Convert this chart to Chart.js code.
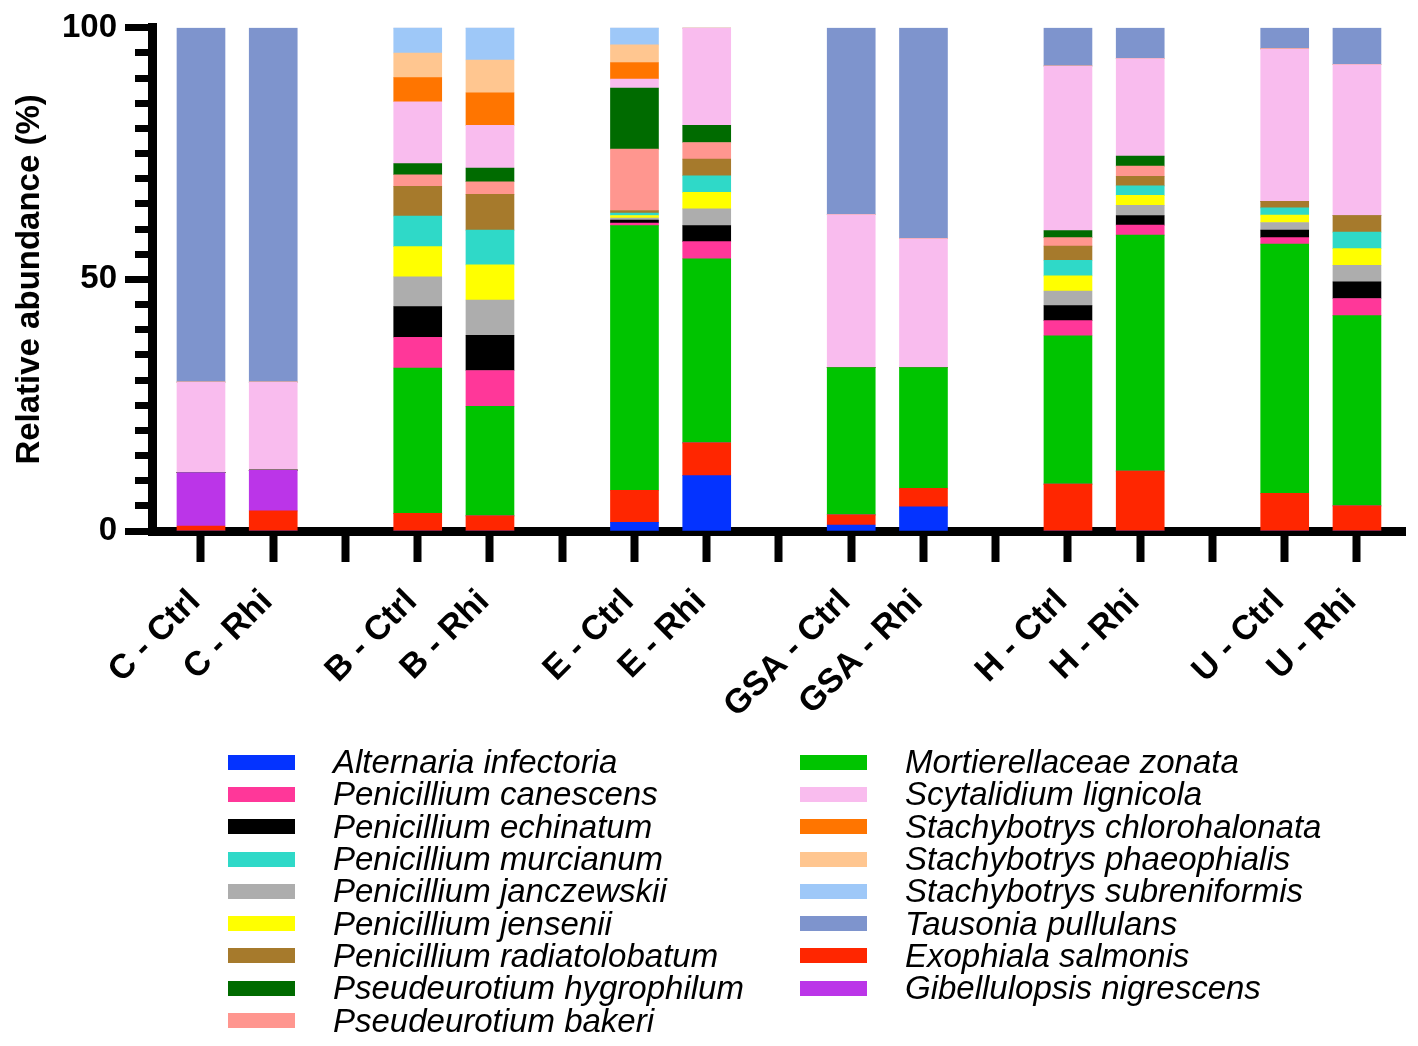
<!DOCTYPE html>
<html>
<head>
<meta charset="utf-8">
<script src="https://cdn.jsdelivr.net/npm/chart.js@4.4.1/dist/chart.umd.min.js"></script>
<style>
  html, body { margin:0; padding:0; background:#fff; }
  #wrap { position:relative; width:1418px; height:1046px; overflow:hidden; }
  #chart { position:absolute; left:0; top:0; }
  .legend-col { position:absolute; top:746px; }
  .legend-item { height:32.3px; display:flex; align-items:center; white-space:nowrap;
    font: italic 33px "Liberation Sans", Arial, sans-serif; color:#000; }
  .swatch { width:67px; height:15px; margin-right:38px; flex:none; }
</style>
</head>
<body>
<div id="wrap">
  <canvas id="chart" width="1418" height="1046"></canvas>
  <div id="legendLeft" class="legend-col" style="left:228px"></div>
  <div id="legendRight" class="legend-col" style="left:800px"></div>
</div>
<script>
// samples along the x axis (pairs, a blank slot after each pair)
const samples = ['C - Ctrl', 'C - Rhi', 'B - Ctrl', 'B - Rhi', 'E - Ctrl', 'E - Rhi',
                 'GSA - Ctrl', 'GSA - Rhi', 'H - Ctrl', 'H - Rhi', 'U - Ctrl', 'U - Rhi'];
const yTicks = [0, 50, 100];

// relative abundance (%), one value per sample
const alternaria     = [0, 0, 0, 0, 1.7, 11.0, 1.2, 4.8, 0, 0, 0, 0];
const exophiala      = [1.0, 4.0, 3.5, 3.0, 6.4, 6.5, 2.0, 3.7, 9.3, 11.9, 7.5, 5.0];
const gibellulopsis  = [10.6, 8.1, 0, 0, 0, 0, 0, 0, 0, 0, 0, 0];
const mortierella    = [0, 0, 28.9, 21.8, 52.6, 36.6, 29.3, 24.0, 29.5, 46.9, 49.5, 37.8];
const canescens      = [0, 0, 6.1, 7.1, 0.5, 3.4, 0, 0, 3.0, 2.0, 1.3, 3.4];
const echinatum      = [0, 0, 6.1, 7.0, 0.6, 3.2, 0, 0, 3.0, 1.9, 1.5, 3.3];
const janczewskii    = [0, 0, 5.9, 7.0, 0.4, 3.3, 0, 0, 2.9, 2.0, 1.5, 3.3];
const jensenii       = [0, 0, 6.0, 7.0, 0.5, 3.3, 0, 0, 3.0, 2.0, 1.5, 3.3];
const murcianum      = [0, 0, 6.1, 6.9, 0.5, 3.3, 0, 0, 3.1, 1.9, 1.4, 3.3];
const radiatolobatum = [0, 0, 5.9, 7.1, 0.5, 3.3, 0, 0, 2.8, 1.9, 1.3, 3.3];
const bakeri         = [0, 0, 2.3, 2.5, 12.2, 3.3, 0, 0, 1.7, 2.0, 0, 0];
const hygrophilum    = [0, 0, 2.2, 2.7, 12.1, 3.4, 0, 0, 1.4, 2.0, 0, 0];
const scytalidium    = [18.0, 17.5, 12.3, 8.5, 1.8, 19.4, 30.4, 25.6, 32.7, 19.4, 30.3, 30.0];
const chlorohalonata = [0, 0, 4.8, 6.5, 3.3, 0, 0, 0, 0, 0, 0, 0];
const phaeophialis   = [0, 0, 4.9, 6.5, 3.5, 0, 0, 0, 0, 0, 0, 0];
const subreniformis  = [0, 0, 5.0, 6.4, 3.4, 0, 0, 0, 0, 0, 0, 0];
const tausonia       = [70.4, 70.4, 0, 0, 0, 0, 37.1, 41.9, 7.6, 6.1, 4.2, 7.3];

// stack order, bottom -> top
const species = [
  ['Alternaria infectoria', alternaria, '#0433ff'],
  ['Exophiala salmonis', exophiala, '#ff2600'],
  ['Gibellulopsis nigrescens', gibellulopsis, '#bb35e8'],
  ['Mortierellaceae zonata', mortierella, '#00c400'],
  ['Penicillium canescens', canescens, '#ff3799'],
  ['Penicillium echinatum', echinatum, '#000000'],
  ['Penicillium janczewskii', janczewskii, '#adadad'],
  ['Penicillium jensenii', jensenii, '#ffff00'],
  ['Penicillium murcianum', murcianum, '#2fd9c8'],
  ['Penicillium radiatolobatum', radiatolobatum, '#a67a2c'],
  ['Pseudeurotium bakeri', bakeri, '#ff968f'],
  ['Pseudeurotium hygrophilum', hygrophilum, '#006b00'],
  ['Scytalidium lignicola', scytalidium, '#f9bcee'],
  ['Stachybotrys chlorohalonata', chlorohalonata, '#ff7500'],
  ['Stachybotrys phaeophialis', phaeophialis, '#ffc690'],
  ['Stachybotrys subreniformis', subreniformis, '#9ec8f8'],
  ['Tausonia pullulans', tausonia, '#7e94cd']
];

const legendLeft = ['Alternaria infectoria', 'Penicillium canescens', 'Penicillium echinatum',
  'Penicillium murcianum', 'Penicillium janczewskii', 'Penicillium jensenii',
  'Penicillium radiatolobatum', 'Pseudeurotium hygrophilum', 'Pseudeurotium bakeri'];
const legendRight = ['Mortierellaceae zonata', 'Scytalidium lignicola', 'Stachybotrys chlorohalonata',
  'Stachybotrys phaeophialis', 'Stachybotrys subreniformis', 'Tausonia pullulans',
  'Exophiala salmonis', 'Gibellulopsis nigrescens'];

// sample index -> slot on the x axis
const slot = i => Math.floor(i / 2) * 3 + (i % 2);
const labelAt = v => (v % 3 === 2) ? '' : (samples[Math.floor(v / 3) * 2 + (v % 3)] || '');

const datasets = species.map(([name, values, color]) => ({
  label: name,
  data: values.map((v, i) => ({x: slot(i), y: v})),
  backgroundColor: color,
  borderWidth: 0,
  barThickness: 48
}));

const FAMILY = '"Liberation Sans", Arial, Helvetica, sans-serif';
const boldFont = {family: FAMILY, weight: 'bold', size: 33};

const chart = new Chart(document.getElementById('chart'), {
  type: 'bar',
  data: {datasets},
  options: {
    responsive: false,
    animation: false,
    devicePixelRatio: 1,
    layout: {padding: {top: 25, right: 13, left: 0, bottom: 0}},
    plugins: {legend: {display: false}, tooltip: {enabled: false}},
    scales: {
      x: {
        type: 'linear',
        stacked: true,
        offset: false,
        min: -0.678,
        max: 16.665,
        afterFit: s => { s.height = 515; },
        border: {color: '#000', width: 9},
        grid: {offset: false, drawOnChartArea: false, tickLength: 31, tickWidth: 8, tickColor: '#000'},
        ticks: {
          stepSize: 1, includeBounds: false, autoSkip: false,
          minRotation: 45, maxRotation: 45, padding: 20, labelOffset: -6,
          color: '#000', font: {family: FAMILY, weight: 'bold', size: 34},
          callback: v => labelAt(v)
        }
      },
      y: {
        stacked: true,
        min: 0,
        max: 100,
        weight: 1,
        afterFit: s => { s.width = 152; },
        afterBuildTicks: s => { s.ticks = yTicks.map(v => ({value: v})); },
        border: {color: '#000', width: 9},
        grid: {drawOnChartArea: false, tickLength: 27, tickWidth: 7, tickColor: '#000'},
        ticks: {padding: 8, color: '#000', font: boldFont},
        title: {display: true, text: 'Relative abundance (%)', color: '#000', font: boldFont,
                padding: {top: 10, bottom: 0}}
      },
      yMinor: {
        position: 'left',
        min: 0,
        max: 100,
        weight: 0,
        afterFit: s => { s.width = 0; },
        border: {display: false},
        grid: {drawOnChartArea: false, tickLength: 17, tickWidth: 7, tickColor: '#000'},
        ticks: {stepSize: 5, callback: () => ''}
      }
    }
  }
});

// two-column legend built from the datasets
function fillLegend(el, names) {
  names.forEach(n => {
    const ds = chart.data.datasets.find(d => d.label === n);
    const row = document.createElement('div');
    row.className = 'legend-item';
    const sw = document.createElement('span');
    sw.className = 'swatch';
    sw.style.background = ds.backgroundColor;
    row.appendChild(sw);
    row.appendChild(document.createTextNode(n));
    el.appendChild(row);
  });
}
fillLegend(document.getElementById('legendLeft'), legendLeft);
fillLegend(document.getElementById('legendRight'), legendRight);
</script>
</body>
</html>
